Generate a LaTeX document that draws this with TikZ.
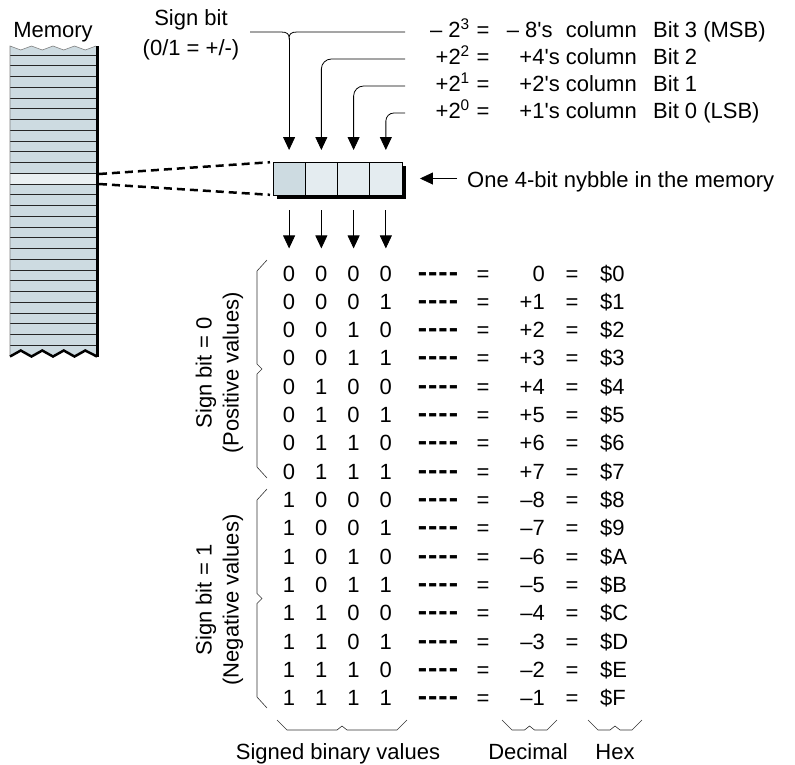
\documentclass[tikz,border=0pt]{standalone}
\usepackage{fontspec}
\setmainfont{Liberation Sans}
\usetikzlibrary{arrows.meta, positioning, calc, shadows}
\definecolor{memfill}{RGB}{205,219,225}
\definecolor{hilite}{RGB}{234,240,242}
\definecolor{cellfill}{RGB}{228,236,240}

\begin{document}
\begin{tikzpicture}[x=1pt, y=-1pt,
  font=\fontsize{22}{27}\selectfont,
  txt/.style={inner sep=0pt},
  tab/.style={inner sep=0pt, anchor=base},
  wire/.style={line width=0.8pt},
  arr/.style={wire, -{Triangle[length=13pt, width=12pt]}},
  cell/.style={draw, line width=0.8pt, fill=cellfill, minimum width=32.25pt,
    minimum height=33pt, inner sep=0pt, outer sep=0pt,
    drop shadow={shadow xshift=4pt, shadow yshift=-4pt, fill=black, opacity=1}},
  link/.style={line width=2.5pt, dash pattern=on 8pt off 5pt},
  brace/.style={line width=0.6pt, black!80}]
  \useasboundingbox (0,0) rectangle (795,764);

  % memory strip
  \fill[memfill] (10,46) -- (20.75,50) -- (31.5,46) -- (42.25,50) -- (53,46) -- (63.75,50)
    -- (74.5,46) -- (85.25,50) -- (96,46) -- (96,355) -- (85.25,349) -- (74.5,355)
    -- (63.75,349) -- (53,355) -- (42.25,349) -- (31.5,355) -- (20.75,349) -- (10,355) -- cycle;
  \fill[hilite] (10,55+10.75*11) rectangle (96,55+10.75*12);
  \foreach \i in {0,...,27} {
    \draw[black!85, line width=0.9pt] (10,55+10.75*\i) -- (96,55+10.75*\i);
  }
  \draw[black!50, line width=0.6pt] (10,355) -- (10,46) -- (20.75,50) -- (31.5,46) -- (42.25,50)
    -- (53,46) -- (63.75,50) -- (74.5,46) -- (85.25,50) -- (96,46);
  \draw[line width=3pt] (97.5,46) -- (97.5,357);
  \draw[line width=2.5pt] (10,356.5) -- (20.75,350.5) -- (31.5,356.5) -- (42.25,350.5) -- (53,356.5)
    -- (63.75,350.5) -- (74.5,356.5) -- (85.25,350.5) -- (97,356.5);
  \node[txt, anchor=base] (mem) at (53,37) {Memory};

  % the nybble
  \node[cell, fill=memfill] (c3) at (289.1,178.5) {};
  \node[cell, right=0pt of c3] (c2) {};
  \node[cell, right=0pt of c2] (c1) {};
  \node[cell, right=0pt of c1] (c0) {};

  \coordinate (m1) at (99,174);
  \coordinate (m2) at (99,184);
  \draw[link, shorten >=3pt] (m1) -- (c3.north west);
  \draw[link, shorten >=3pt] (m2) -- (c3.south west);

  \node[txt, anchor=base west] (nyb) at (467,187) {One 4-bit nybble in the memory};
  \draw[arr, shorten <=10pt, shorten >=18pt] (nyb.west |- c0.east) -- (c0.east);

  % column weights
  \node[txt, align=center] (sgn) at (191,35) {Sign bit\\[3pt](0/1 = +/-)};
  \foreach \i/\yb/\pw/\wt/\bt in {
      3/37/{– 2\textsuperscript{3}}/{– 8\textquotesingle s\hspace{.6em}column}/{Bit 3 (MSB)},
      2/64/{+2\textsuperscript{2}}/{+4\textquotesingle s column}/{Bit 2},
      1/91/{+2\textsuperscript{1}}/{+2\textquotesingle s column}/{Bit 1},
      0/118/{+2\textsuperscript{0}}/{+1\textquotesingle s column}/{Bit 0 (LSB)}} {
    \node[tab, anchor=base east] (pw\i) at (470,\yb) {\pw};
    \node[tab] (eq\i) at (483,\yb) {=};
    \node[tab, anchor=base east] (wt\i) at (637,\yb) {\wt};
    \node[tab, anchor=base west] (bit\i) at (653,\yb) {\bt};
    \coordinate (e\i) at (405,\yb-5);
  }
  \coordinate (sgnL) at (250,32);
  \coordinate (jn) at ($(c3.north |- e3)+(0,6)$);
  \draw[wire] (sgnL) -- ($(jn)+(-8,-6)$) .. controls ($(jn)+(-2,-6)$) and ($(jn)+(0,-4)$) .. (jn)
    .. controls ($(jn)+(0,-4)$) and ($(jn)+(2,-6)$) .. ($(jn)+(8,-6)$) -- (e3);
  \draw[arr, shorten >=12pt] (jn) -- (c3.north);
  \draw[arr, rounded corners=10pt, shorten >=12pt] (e2) -| (c2.north);
  \draw[arr, rounded corners=10pt, shorten >=12pt] (e1) -| (c1.north);
  \draw[arr, rounded corners=8pt, shorten >=12pt] (e0) -| (c0.north);

  % table of values
  \foreach \k/\ba/\bb/\bc/\bd/\dec/\hx in {
      0/0/0/0/0/0/0, 1/0/0/0/1/+1/1, 2/0/0/1/0/+2/2, 3/0/0/1/1/+3/3,
      4/0/1/0/0/+4/4, 5/0/1/0/1/+5/5, 6/0/1/1/0/+6/6, 7/0/1/1/1/+7/7,
      8/1/0/0/0/–8/8, 9/1/0/0/1/–7/9, 10/1/0/1/0/–6/A, 11/1/0/1/1/–5/B,
      12/1/1/0/0/–4/C, 13/1/1/0/1/–3/D, 14/1/1/1/0/–2/E, 15/1/1/1/1/–1/F} {
    \pgfmathsetmacro\yb{281+28.33*\k}
    \node[tab] (r\k-3) at (289.1,\yb) {\ba};
    \node[tab] (r\k-2) at (321.35,\yb) {\bb};
    \node[tab] (r\k-1) at (353.6,\yb) {\bc};
    \node[tab] (r\k-0) at (385.85,\yb) {\bd};
    \node[tab, font=\fontsize{28}{28}\selectfont\bfseries] (r\k-d) at (438,\yb)
      {-\kern1pt-\kern1pt-\kern1pt-};
    \node[tab] (r\k-e) at (483,\yb) {=};
    \node[tab, anchor=base east] (r\k-dec) at (545,\yb) {\dec};
    \node[tab] (r\k-f) at (572,\yb) {=};
    \node[tab, anchor=base west] (r\k-hex) at (600,\yb) {\$\hx};
  }
  \foreach \i in {3,2,1,0} {
    \draw[arr, shorten <=15pt, shorten >=17pt] (c\i.south) -- (c\i.south |- r0-\i.north);
  }

  % braces and labels
  \foreach \ta/\tb in {260/478, 489/708} {
    \pgfmathsetmacro\tm{(\ta+\tb)/2}
    \draw[brace] (267,\ta) -- (257,\ta+11) -- (257,\tm-5) -- (262,\tm) -- (257,\tm+5)
      -- (257,\tb-11) -- (267,\tb);
  }
  \node[txt, rotate=90, align=center] (pos) at (219.5,373) {Sign bit = 0\\(Positive values)};
  \node[txt, rotate=90, align=center] (neg) at (219.5,600) {Sign bit = 1\\(Negative values)};

  \foreach \xa/\xb in {277/407, 502/557, 588/642} {
    \pgfmathsetmacro\xm{(\xa+\xb)/2}
    \draw[brace] (\xa,720) -- (\xa+10,730) -- (\xm-5,730) -- (\xm,726) -- (\xm+5,730)
      -- (\xb-10,730) -- (\xb,720);
  }
  \node[txt, anchor=base] (lbin) at (338,759) {Signed binary values};
  \node[txt, anchor=base] (ldec) at (528,759) {Decimal};
  \node[txt, anchor=base] (lhex) at (615,759) {Hex};
\end{tikzpicture}
\end{document}
